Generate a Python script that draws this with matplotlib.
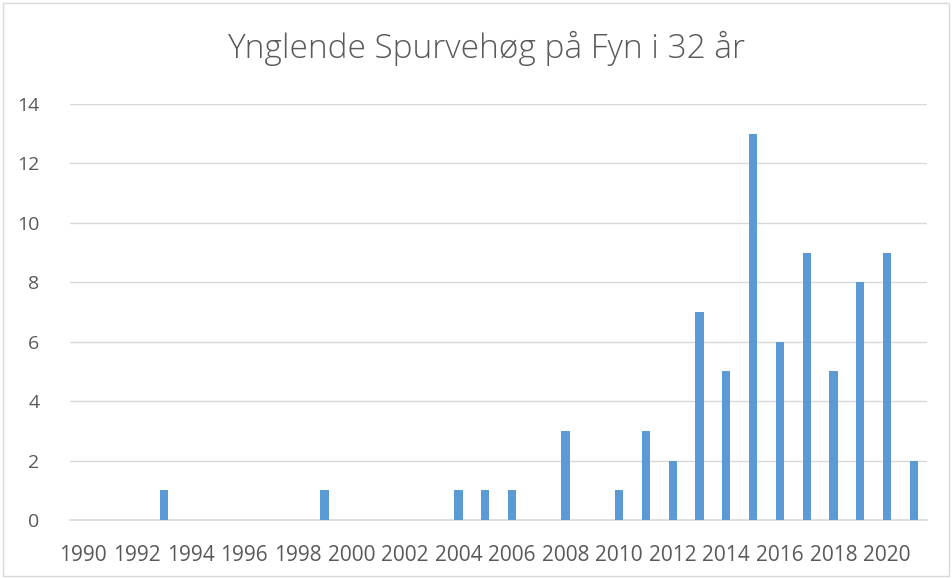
import matplotlib.pyplot as plt
from matplotlib.patches import Rectangle

years = list(range(1990, 2022))
counts = [0, 0, 0, 1, 0, 0, 0, 0, 0, 1,
          0, 0, 0, 0, 1, 1, 1, 0, 3, 0,
          1, 3, 2, 7, 5, 13, 6, 9, 5, 8,
          9, 2]
tick_years = list(range(1990, 2021, 2))

plt.rcParams['font.family'] = ['Open Sans', 'DejaVu Sans']

fig = plt.figure(figsize=(9.52, 5.79), dpi=100)
ax = fig.add_axes([0.0735, 0.1019, 0.9005, 0.7185])

ax.bar(years, counts, width=0.31, color="#5B9BD5", zorder=3)

ax.set_ylim(0, 14)
ax.set_yticks(range(0, 15, 2))
ax.set_xlim(1989.5, 2021.5)
ax.set_xticks(tick_years)
ax.set_xticklabels([str(y) for y in tick_years])

ax.grid(axis="y", color="#D9D9D9", linewidth=1, zorder=0)
for s in ["top", "right", "left"]:
    ax.spines[s].set_visible(False)
ax.spines["bottom"].set_color("#D9D9D9")
ax.spines["bottom"].set_linewidth(1.2)
ax.tick_params(length=0, labelcolor="#595959")
ax.tick_params(axis="y", pad=22, labelsize=14)
ax.tick_params(axis="x", pad=18, labelsize=15)

fig.text(0.511, 0.917, "Ynglende Spurvehøg på Fyn i 32 år", ha="center", va="center",
         fontsize=24, color="#595959", fontweight="light")

fig.patches.append(Rectangle((0.003, 0.005), 0.994, 0.99, transform=fig.transFigure,
                             fill=False, edgecolor="#D9D9D9", linewidth=1))

fig.savefig("out.png", dpi=100)
